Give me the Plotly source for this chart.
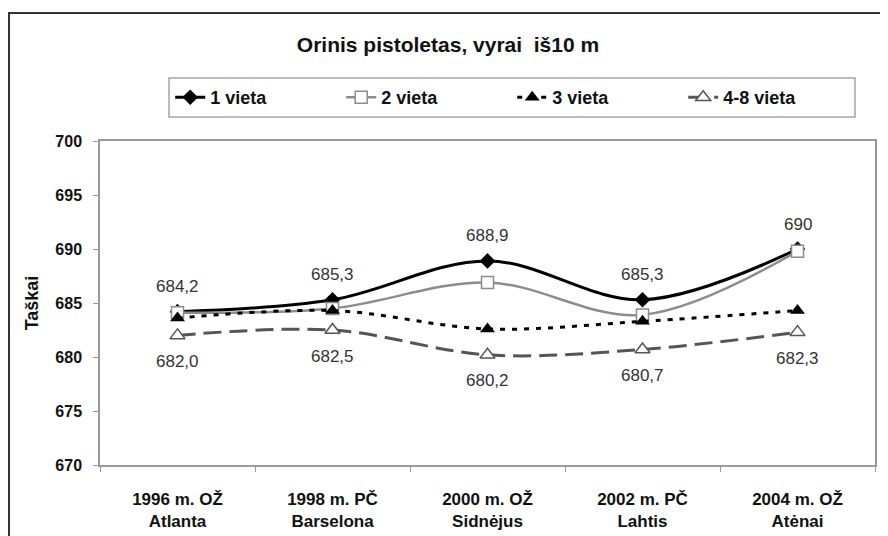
import plotly.graph_objects as go

categories = ["1996 m. OŽ<br>Atlanta", "1998 m. PČ<br>Barselona", "2000 m. OŽ<br>Sidnėjus",
              "2002 m. PČ<br>Lahtis", "2004 m. OŽ<br>Atėnai"]
vieta_1 = [684.2, 685.3, 688.9, 685.3, 690.0]
vieta_2 = [684.1, 684.5, 686.9, 683.9, 689.8]
vieta_3 = [683.6, 684.3, 682.6, 683.3, 684.3]
vieta_4_8 = [682.0, 682.5, 680.2, 680.7, 682.3]
labels_1 = ["684,2", "685,3", "688,9", "685,3", "690"]
labels_4_8 = ["682,0", "682,5", "680,2", "680,7", "682,3"]

FONT = "Arial, Liberation Sans, sans-serif"

fig = go.Figure()

fig.add_trace(go.Scatter(
    x=categories, y=vieta_1, name="1 vieta", mode="lines+markers",
    line=dict(color="#000000", width=3, shape="spline", smoothing=1),
    marker=dict(symbol="diamond", size=12, color="#000000"),
))
fig.add_trace(go.Scatter(
    x=categories, y=vieta_2, name="2 vieta", mode="lines+markers",
    line=dict(color="#8c8c8c", width=2.5, shape="spline", smoothing=1),
    marker=dict(symbol="square", size=12, color="white", line=dict(color="#8c8c8c", width=1.5)),
))
fig.add_trace(go.Scatter(
    x=categories, y=vieta_3, name="3 vieta", mode="lines+markers",
    line=dict(color="#000000", width=3, dash="5px,7px", shape="spline", smoothing=1),
    marker=dict(symbol="triangle-up", size=13, color="#000000"),
))
fig.add_trace(go.Scatter(
    x=categories, y=vieta_4_8, name="4-8 vieta", mode="lines+markers",
    line=dict(color="#555555", width=3, dash="18px,8px", shape="spline", smoothing=1),
    marker=dict(symbol="triangle-up", size=13, color="white", line=dict(color="#555555", width=1.5)),
))

# data labels: above the 1st-place line, below the 4-8 line
for cat, val, lab in zip(categories, vieta_1, labels_1):
    fig.add_annotation(x=cat, y=val, text=lab, showarrow=False, yshift=25,
                       font=dict(size=17, color="#333333", family=FONT))
for cat, val, lab in zip(categories, vieta_4_8, labels_4_8):
    fig.add_annotation(x=cat, y=val, text=lab, showarrow=False, yshift=-26,
                       font=dict(size=17, color="#333333", family=FONT))

# outer frame round the whole chart
fig.add_shape(type="rect", xref="paper", yref="paper",
              x0=-0.1174, x1=1.0142, y0=-0.25, y1=1.395,
              line=dict(color="#333333", width=2), layer="below")

fig.update_layout(
    width=880, height=528,
    margin=dict(l=92, r=13, t=133, b=71),
    paper_bgcolor="white", plot_bgcolor="white",
    font=dict(family=FONT, color="#111111"),
    title=dict(text="<b>Orinis pistoletas, vyrai  iš10 m</b>", x=0.5, xanchor="center",
               y=0.93, yanchor="middle", font=dict(size=21, color="#111111")),
    showlegend=True,
    legend=dict(orientation="h", x=0.088, y=1.1975, xanchor="left", yanchor="top",
                bordercolor="#bbbbbb", borderwidth=2, entrywidth=126,
                font=dict(size=18, family=FONT, color="#111111", weight="bold"),
                itemclick=False),
    xaxis=dict(range=[-0.5, 4.5], showline=True, linecolor="#999999", linewidth=1.5, mirror=True,
               ticks="outside", tickson="boundaries", ticklen=5, tickcolor="#999999",
               ticklabelstandoff=18, showgrid=False, automargin=False,
               tickfont=dict(size=17, family=FONT, color="#111111", weight="bold")),
    yaxis=dict(range=[670, 700], dtick=5, showline=True, linecolor="#999999", linewidth=1.5,
               mirror=True, ticks="outside", ticklen=5, tickcolor="#999999", showgrid=False,
               zeroline=False, ticklabelstandoff=8, automargin=False,
               tickfont=dict(size=16, family=FONT, color="#111111", weight="bold"),
               title=dict(text="<b>Taškai</b>", font=dict(size=18, family=FONT, color="#111111"),
                          standoff=12)),
)

fig.write_html("out.html")
